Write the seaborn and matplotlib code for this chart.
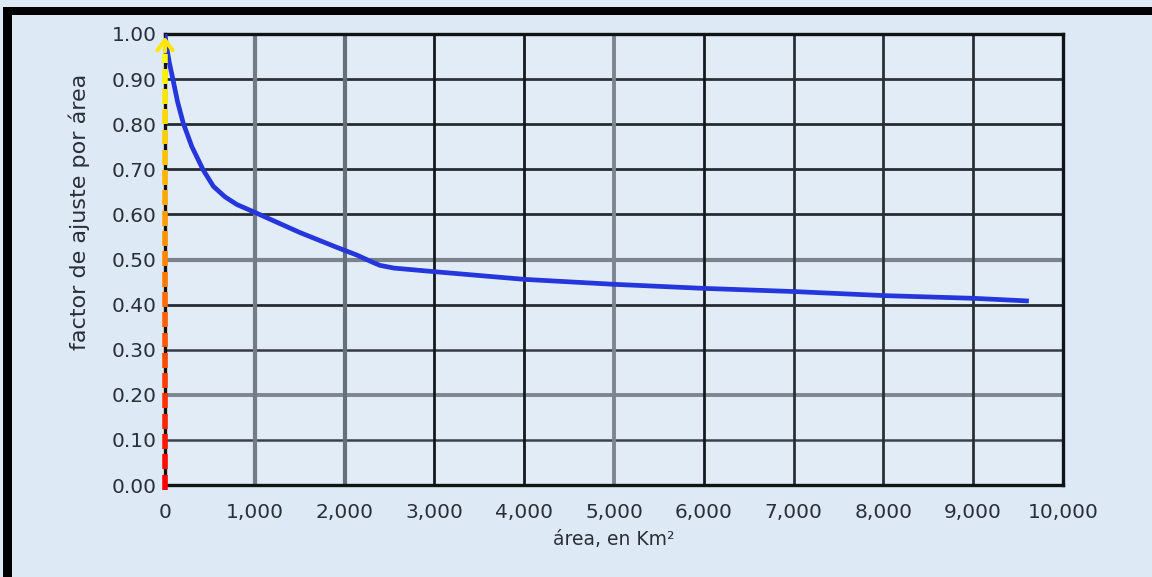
import numpy as np
import pandas as pd
import seaborn as sns
import matplotlib.pyplot as plt
from matplotlib.collections import LineCollection
from matplotlib.patches import Rectangle

# --- data ---
area_km2 = [0, 15, 50, 86, 140, 204, 300, 427, 540, 668, 800, 984, 1500,
            1900, 2135, 2300, 2394, 2550, 3000, 4000, 5000, 6000, 7000, 8000,
            9000, 9620]
factor = [1.00, 0.975, 0.935, 0.902, 0.85, 0.802, 0.75, 0.698, 0.662, 0.639,
          0.622, 0.606, 0.56, 0.528, 0.51, 0.495, 0.487, 0.481, 0.473, 0.456,
          0.445, 0.436, 0.429, 0.420, 0.414, 0.408]

x_ticks = list(range(0, 10001, 1000))
y_ticks = [round(v * 0.1, 1) for v in range(11)]
x_tick_labels = ["0", "1,000", "2,000", "3,000", "4,000", "5,000", "6,000",
                 "7,000", "8,000", "9,000", "10,000"]
y_tick_labels = [f"{v:.2f}" for v in y_ticks]

df = pd.DataFrame({"area": area_km2, "factor": factor})

sns.set_theme(style="white")
plt.rcParams["font.family"] = ["DejaVu Sans"]

bg = "#dde9f5"
text_c = "#2a2f37"
fig = plt.figure(figsize=(11.52, 5.77), dpi=100, facecolor=bg)
ax = fig.add_axes([0.1432, 0.1594, 0.9227 - 0.1432, 0.9411 - 0.1594])
ax.set_facecolor("#e2ecf7")

# black frame on the top and left of the scan
fig.patches.append(Rectangle((0.0026, 0.974), 0.9974, 0.0139, transform=fig.transFigure,
                             facecolor="black", edgecolor="none"))
fig.patches.append(Rectangle((0.0026, 0.0), 0.0078, 0.988, transform=fig.transFigure,
                             facecolor="black", edgecolor="none"))

ax.set_xlim(0, 10000)
ax.set_ylim(0, 1.0)

# grid lines, darker and lighter ones as in the scan
dark = "#262b31"
h_style = {0.1: ("#3a424c", 1.8), 0.2: ("#7d868f", 2.8), 0.3: ("#333a43", 1.8),
           0.4: (dark, 2.0), 0.5: ("#7a838c", 3.0), 0.6: (dark, 2.0),
           0.7: (dark, 2.0), 0.8: (dark, 2.0), 0.9: ("#2c3238", 2.0)}
for yv, (c, lw) in h_style.items():
    ax.axhline(yv, color=c, lw=lw, zorder=1)
v_style = {1000: ("#737c86", 3.0), 2000: ("#66707a", 3.0), 3000: ("#15181c", 2.0),
           4000: ("#15181c", 2.0), 5000: ("#7d868f", 2.8), 6000: ("#15181c", 2.0),
           7000: ("#2a3036", 2.0), 8000: ("#2a3036", 2.0), 9000: ("#2a3036", 2.0)}
for xv, (c, lw) in v_style.items():
    ax.axvline(xv, color=c, lw=lw, zorder=1)

sns.lineplot(data=df, x="area", y="factor", ax=ax, color="#2436dc", lw=3.4,
             zorder=4, solid_capstyle="butt")

for s in ax.spines.values():
    s.set_color("#111417")
    s.set_linewidth(2.4)
    s.set_zorder(3)

ax.set_xticks(x_ticks)
ax.set_xticklabels(x_tick_labels)
ax.set_yticks(y_ticks)
ax.set_yticklabels(y_tick_labels)
ax.tick_params(axis="both", length=0, labelsize=14.5, colors=text_c)
ax.tick_params(axis="x", pad=13)
ax.tick_params(axis="y", pad=6)

ax.set_xlabel("área, en Km²", fontsize=13.5, color=text_c, labelpad=6)
ax.set_ylabel("factor de ajuste por área", fontsize=16, color=text_c)
# the scanned label sits above the middle of the axis
ax.yaxis.set_label_coords(-0.083, 0.605)

# red-orange-yellow dashed marker along x = 0 with an arrow head at the top
cmap = plt.get_cmap("autumn")
starts = np.arange(-0.01, 0.955, 0.045)
segs = [[(0, s), (0, min(s + 0.033, 0.955))] for s in starts]
cols = [cmap(min(1.0, max(0.0, (s + 0.01) / 0.95))) for s in starts]
lc = LineCollection(segs, colors=cols, linewidths=4.0, transform=ax.transData,
                    zorder=5, clip_on=False, capstyle="butt")
ax.add_collection(lc)
ax.annotate("", xy=(0, 1.0), xytext=(0, 0.955),
            arrowprops=dict(arrowstyle="->,head_width=0.45,head_length=0.6",
                            color="#ffe600", lw=3),
            annotation_clip=False, zorder=6)

fig.savefig("out.png", dpi=100, facecolor=bg)
